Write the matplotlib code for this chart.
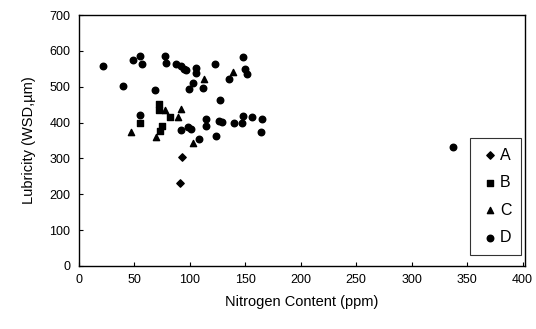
import matplotlib
matplotlib.use("Agg")
import matplotlib.pyplot as plt

plt.rcParams['font.family'] = ['Liberation Sans', 'DejaVu Sans']

# series A (diamonds)
a_x = [93, 91]
a_y = [303, 231]

# series B (squares)
b_x = [72, 72, 82, 55, 75, 73]
b_y = [451, 436, 417, 398, 390, 376]

# series C (triangles)
c_x = [47, 70, 78, 89, 92, 103, 113, 139]
c_y = [374, 361, 434, 415, 437, 342, 522, 541]

# series D (circles)
d_x = [22, 40, 49, 55, 57, 78, 79, 88, 92, 95, 97, 106, 106, 103, 99, 112,
       123, 148, 150, 152, 135, 127, 69, 55, 92, 98, 101, 108, 115, 115,
       126, 129, 124, 140, 148, 147, 156, 165, 164, 337]
d_y = [558, 503, 574, 586, 564, 586, 567, 565, 558, 551, 546, 553, 538, 511,
       494, 496, 565, 583, 551, 536, 522, 463, 490, 420, 380, 388, 381, 355,
       410, 392, 404, 403, 363, 400, 419, 398, 416, 411, 374, 333]

x_ticks = [0, 50, 100, 150, 200, 250, 300, 350, 400]
y_ticks = [0, 100, 200, 300, 400, 500, 600, 700]

fig = plt.figure(figsize=(5.36, 3.29), dpi=100)
ax = fig.add_axes([0.147, 0.1915, 0.832, 0.7625])

ax.scatter(a_x, a_y, marker='D', s=14, color='black', label='A')
ax.scatter(b_x, b_y, marker='s', s=16, color='black', label='B')
ax.scatter(c_x, c_y, marker='^', s=20, color='black', label='C')
ax.scatter(d_x, d_y, marker='o', s=22, color='black', label='D')

ax.set_xlim(0, 402)
ax.set_ylim(0, 700)
ax.set_xticks(x_ticks)
ax.set_yticks(y_ticks)
ax.tick_params(direction='in', length=3, width=0.8, labelsize=9, pad=6)
for sp in ax.spines.values():
    sp.set_linewidth(1.0)

ax.set_xlabel('Nitrogen Content (ppm)', fontsize=10.5, labelpad=6)
ax.set_ylabel('Lubricity (WSD,\u00b5m)', fontsize=10.5, labelpad=10)

leg = ax.legend(loc='upper left', bbox_to_anchor=(0.878, 0.51), frameon=True,
                fancybox=False, edgecolor='black', fontsize=11.5,
                handletextpad=0.05, handlelength=1.2, labelspacing=0.78,
                borderpad=0.6, borderaxespad=0, scatterpoints=1)
leg.get_frame().set_linewidth(0.8)

fig.savefig('out.png', dpi=100)
